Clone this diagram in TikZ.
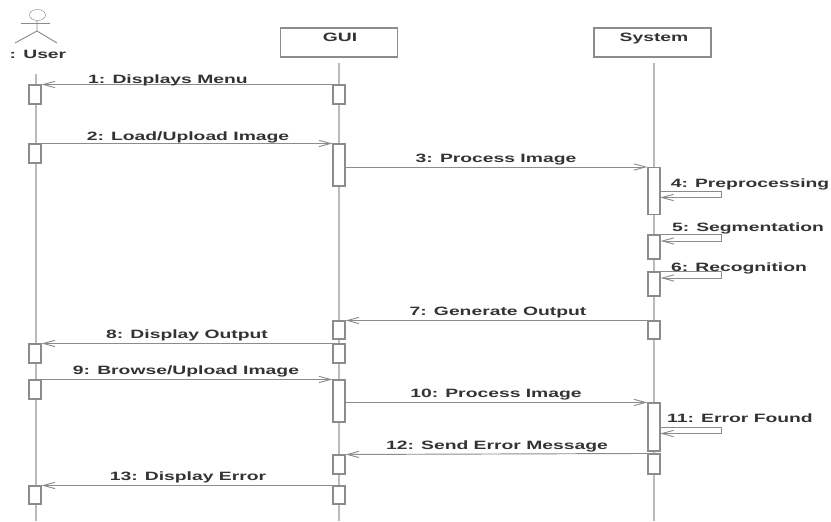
\documentclass[tikz,border=0pt]{standalone}
\usepackage{fontspec}
\setmainfont{Liberation Sans}[FakeStretch=1.6]
\usetikzlibrary{arrows.meta}
\definecolor{linegray}{gray}{0.55}
\definecolor{textgray}{gray}{0.2}
\tikzset{
    lifeline/.style={linegray!60,line width=1pt},
    bar/.style={draw=linegray,fill=white,line width=0.9pt,inner sep=0pt,minimum width=0.36cm},
    objbox/.style={draw=linegray,fill=white,line width=1pt,inner sep=0pt,minimum width=3.51cm,minimum height=0.87cm},
    msg/.style={linegray,line width=0.8pt,-{Straight Barb[length=10pt,width=7pt,angle'=30]}},
    msgtxt/.style={text=textgray,inner sep=0pt,text height=7.4pt,text depth=0pt,font=\fontsize{10.3}{12}\selectfont\bfseries},
}
\begin{document}
\begin{tikzpicture}[x=0.03cm,y=-0.03cm]
    \useasboundingbox (0,0) rectangle (831,521);
    \node[objbox] (gui) at (339,42.5) {};
    \node[objbox] (system) at (652.5,42.5) {};
    \node[msgtxt] (guitxt) at (340,37) {GUI};
    \node[msgtxt] (systemtxt) at (654,37) {System};
    \node[msgtxt] (usertxt) at (38,54) {: User};
    \draw[linegray] (37.5,15) ellipse (8 and 5.5);
    \draw[linegray,line width=0.8pt] (37,20.5) -- (37,31) (21,23.5) -- (50,23.5) (15,43) -- (37,31) -- (57,43);
    \coordinate (userend) at (36,521);
    \coordinate (guiend) at (339,521);
    \coordinate (systemend) at (654,521);
    \draw[lifeline] (36,74) -- (userend);
    \draw[lifeline] (339,63) -- (guiend);
    \draw[lifeline] (654,63) -- (systemend);
    \foreach \name/\x/\top/\bot in {u1/35/85/104,u2/35/144/163,u3/35/344/363,u4/35/380/399,u5/35/486/504,
        g1/339/85/104,g2/339/144/186,g3/339/321/339,g4/339/344/363,g5/339/380/422,g6/339/455/474,g7/339/486/504,
        s1/654/167.5/214.5,s2/654/235/259,s3/654/272/296,s4/654/321/339,s5/654/403/451,s6/654/454/474}
        \node[bar,minimum height={(\bot-\top)*0.03cm}] (\name) at (\x,{(\top+\bot)/2}) {};
    \draw[msg] (g1.north west) -- (u1.north east);
    \draw[msg] (u2.north east) -- (g2.north west);
    \draw[msg] (g2.east |- s1.north west) -- (s1.north west);
    \coordinate (r4) at (721,191);
    \draw[msg] (s1.east |- r4) -- (r4) -- ++(0,6.5) -- ++(-61,0);
    \draw[msg] (s2.north east) -- ++(61,0) -- ++(0,6.5) -- ++(-61,0);
    \draw[msg] (s3.north east) -- ++(61,0) -- ++(0,6.5) -- ++(-61,0);
    \draw[msg] (s4.north west) -- (g3.north east);
    \draw[msg] (g4.north west) -- (u3.north east);
    \draw[msg] (u4.north east) -- (g5.north west);
    \draw[msg] (g5.east |- s5.north west) -- (s5.north west);
    \coordinate (r11) at (721,427);
    \draw[msg] (s5.east |- r11) -- (r11) -- ++(0,6.5) -- ++(-61,0);
    \draw[msg] (s6.north west) -- (g6.north east);
    \draw[msg] (g7.north west) -- (u5.north east);
    \node[msgtxt] (m1) at (168,79) {1: Displays Menu};
    \node[msgtxt] (m2) at (188,136) {2: Load/Upload Image};
    \node[msgtxt] (m3) at (496,158) {3: Process Image};
    \node[msgtxt] (m4) at (750,183) {4: Preprocessing};
    \node[msgtxt] (m5) at (748,227) {5: Segmentation};
    \node[msgtxt] (m6) at (739,267) {6: Recognition};
    \node[msgtxt] (m7) at (498,311) {7: Generate Output};
    \node[msgtxt] (m8) at (187,334) {8: Display Output};
    \node[msgtxt] (m9) at (186,370) {9: Browse/Upload Image};
    \node[msgtxt] (m10) at (496,393) {10: Process Image};
    \node[msgtxt] (m11) at (740,418) {11: Error Found};
    \node[msgtxt] (m12) at (497,445) {12: Send Error Message};
    \node[msgtxt] (m13) at (188,476) {13: Display Error};
\end{tikzpicture}
\end{document}
